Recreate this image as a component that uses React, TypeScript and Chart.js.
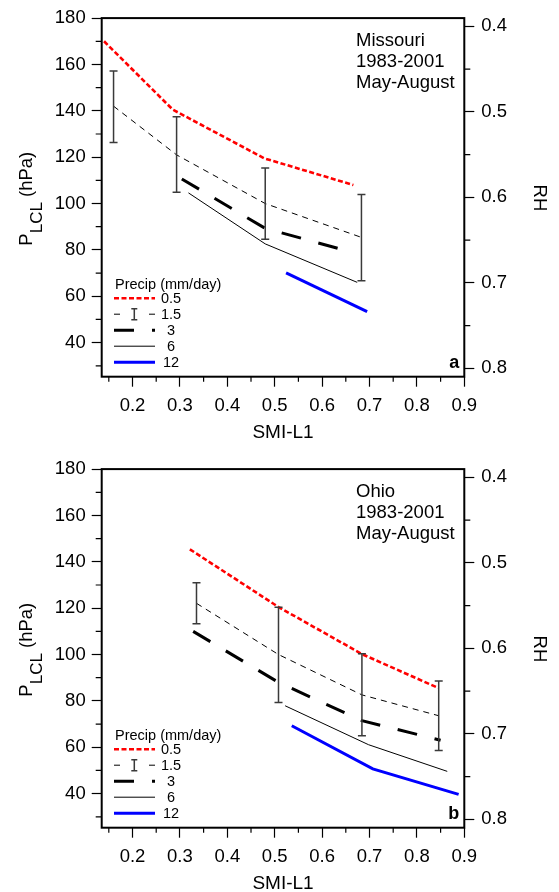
import React, { useEffect, useRef } from 'react';
import { Chart, registerables } from 'chart.js';

Chart.register(...registerables);

const FONT = '"Liberation Sans", Arial, Helvetica, sans-serif';

// ---- axis ticks ----
const xMajorTicks = [0.2, 0.3, 0.4, 0.5, 0.6, 0.7, 0.8, 0.9];
const xMinorTicks = [0.15, 0.25, 0.35, 0.45, 0.55, 0.65, 0.75, 0.85];
const pMajorTicks = [40, 60, 80, 100, 120, 140, 160, 180];
const pMinorTicks = [30, 50, 70, 90, 110, 130, 150, 170];
const rhMajorTicks = [0.4, 0.5, 0.6, 0.7, 0.8];
const rhMinorTicks = [0.45, 0.55, 0.65, 0.75];
const precipLabels = ['0.5', '1.5', '3', '6', '12'];
const legendTitle = 'Precip (mm/day)';
const xTitle = 'SMI-L1';

// ---- Missouri (panel a) ----
const moTitle = ['Missouri', '1983-2001', 'May-August'];
const moX05 = [0.14, 0.285, 0.478, 0.666];
const moY05 = [170, 140.5, 119.5, 108];
const moX15 = [0.16, 0.293, 0.48, 0.683];
const moY15 = [142, 121, 100, 85.4];
const moLo15 = [126.3, 104.9, 84.6, 66.7];
const moHi15 = [157.2, 137.4, 115.3, 103.9];
const moX3 = [0.304, 0.48, 0.64];
const moY3 = [110.6, 89.3, 80.3];
const moX6 = [0.318, 0.48, 0.674];
const moY6 = [104.6, 82.6, 66];
const moX12 = [0.524, 0.695];
const moY12 = [70.1, 53.4];

// ---- Ohio (panel b) ----
const ohTitle = ['Ohio', '1983-2001', 'May-August'];
const ohX05 = [0.321, 0.508, 0.684, 0.846];
const ohY05 = [145.4, 120.5, 100.2, 85.5];
const ohX15 = [0.335, 0.508, 0.684, 0.846];
const ohY15 = [122.1, 100, 82.6, 73.6];
const ohLo15 = [113.3, 79.3, 65.0, 58.6];
const ohHi15 = [131.0, 120.4, 100.3, 88.6];
const ohX3 = [0.328, 0.508, 0.684, 0.85];
const ohY3 = [110, 88, 71.5, 63];
const ohX6 = [0.522, 0.698, 0.864];
const ohY6 = [77.9, 61.1, 49.6];
const ohX12 = [0.536, 0.707, 0.888];
const ohY12 = [69.3, 50.7, 39.7];

type PanelData = {
  title: string[];
  letter: string;
  x05: number[]; y05: number[];
  x15: number[]; y15: number[]; lo15: number[]; hi15: number[];
  x3: number[]; y3: number[];
  x6: number[]; y6: number[];
  x12: number[]; y12: number[];
};

const panelA: PanelData = {
  title: moTitle, letter: 'a',
  x05: moX05, y05: moY05, x15: moX15, y15: moY15, lo15: moLo15, hi15: moHi15,
  x3: moX3, y3: moY3, x6: moX6, y6: moY6, x12: moX12, y12: moY12,
};
const panelB: PanelData = {
  title: ohTitle, letter: 'b',
  x05: ohX05, y05: ohY05, x15: ohX15, y15: ohY15, lo15: ohLo15, hi15: ohHi15,
  x3: ohX3, y3: ohY3, x6: ohX6, y6: ohY6, x12: ohX12, y12: ohY12,
};

const W = 559;
const AREA_TOP = 15.7;
const AREA_BOTTOM = 376.7;
const AREA_LEFT = 101.7;
const AREA_RIGHT = 464.3;
const ERR_COLOR = '#3a3a3a';

function pts(xs: number[], ys: number[]) {
  return xs.map((x, i) => ({ x, y: ys[i] }));
}

function makeDecor(p: PanelData) {
  return {
    id: 'decor',
    afterDatasetsDraw(chart: any) {
      const { ctx, scales } = chart;
      const xs = scales.x;
      const ys = scales.y;
      ctx.save();
      // error bars for 1.5 mm/day
      ctx.setLineDash([]);
      ctx.strokeStyle = ERR_COLOR;
      ctx.lineWidth = 1.5;
      p.x15.forEach((xv, i) => {
        const px = xs.getPixelForValue(xv);
        const pl = ys.getPixelForValue(p.lo15[i]);
        const ph = ys.getPixelForValue(p.hi15[i]);
        ctx.beginPath();
        ctx.moveTo(px, pl); ctx.lineTo(px, ph);
        ctx.moveTo(px - 4, pl); ctx.lineTo(px + 4, pl);
        ctx.moveTo(px - 4, ph); ctx.lineTo(px + 4, ph);
        ctx.stroke();
      });
      ctx.restore();
    },
    afterDraw(chart: any) {
      const { ctx, chartArea: ca, scales } = chart;
      ctx.save();
      ctx.setLineDash([]);
      // frame
      ctx.strokeStyle = '#000';
      ctx.lineWidth = 2;
      ctx.strokeRect(ca.left, ca.top, ca.right - ca.left, ca.bottom - ca.top);
      // minor ticks
      ctx.lineWidth = 1.2;
      ctx.beginPath();
      xMinorTicks.forEach((v) => {
        const px = scales.x.getPixelForValue(v);
        ctx.moveTo(px, ca.bottom); ctx.lineTo(px, ca.bottom + 5);
      });
      pMinorTicks.forEach((v) => {
        const py = scales.y.getPixelForValue(v);
        ctx.moveTo(ca.left - 6, py); ctx.lineTo(ca.left, py);
      });
      rhMinorTicks.forEach((v) => {
        const py = scales.rh.getPixelForValue(v);
        ctx.moveTo(ca.right, py); ctx.lineTo(ca.right + 6, py);
      });
      ctx.stroke();

      ctx.fillStyle = '#000';
      // region title
      ctx.font = `18.5px ${FONT}`;
      ctx.textAlign = 'left';
      ctx.textBaseline = 'alphabetic';
      const tx = ca.left + 254.3;
      const baselines = [27.6, 49.3, 70.3];
      p.title.forEach((t, i) => ctx.fillText(t, tx, ca.top + baselines[i]));

      // panel letter
      ctx.font = `bold 18px ${FONT}`;
      ctx.textAlign = 'right';
      ctx.fillText(p.letter, ca.right - 5, ca.bottom - 8.7);

      // x title
      ctx.font = `19px ${FONT}`;
      ctx.textAlign = 'center';
      ctx.textBaseline = 'alphabetic';
      ctx.fillText(xTitle, (ca.left + ca.right) / 2, ca.bottom + 60.8);

      // left title P_LCL (hPa)
      const cy = (ca.top + ca.bottom) / 2 + 1.3;
      ctx.save();
      ctx.translate(0, cy);
      ctx.rotate(-Math.PI / 2);
      ctx.textAlign = 'left';
      ctx.textBaseline = 'alphabetic';
      const fBig = `18.5px ${FONT}`;
      const fSub = `17px ${FONT}`;
      ctx.font = fBig;
      const wP = ctx.measureText('P').width;
      const wH = ctx.measureText(' (hPa)').width;
      ctx.font = fSub;
      const wL = ctx.measureText('LCL').width;
      const total = wP + wL + wH;
      let sx = -total / 2;
      ctx.font = fBig;
      ctx.fillText('P', sx, 31.7);
      sx += wP;
      ctx.font = fSub;
      ctx.fillText('LCL', sx, 41.5);
      sx += wL;
      ctx.font = fBig;
      ctx.fillText(' (hPa)', sx, 31.7);
      ctx.restore();

      // right title RH
      ctx.save();
      ctx.translate(539, (ca.top + ca.bottom) / 2 + 0.5);
      ctx.rotate(Math.PI / 2);
      ctx.font = `18.5px ${FONT}`;
      ctx.textAlign = 'center';
      ctx.textBaseline = 'middle';
      ctx.fillText('RH', 0, 0);
      ctx.restore();

      // legend
      const lx0 = 114;
      const lx1 = 155;
      ctx.font = `14.5px ${FONT}`;
      ctx.textAlign = 'left';
      ctx.textBaseline = 'alphabetic';
      ctx.fillText(legendTitle, 115, 288.5);
      const ds = chart.data.datasets;
      precipLabels.forEach((lab, i) => {
        const ry = 298.2 + 16 * i;
        const d = ds[i];
        ctx.strokeStyle = d.borderColor;
        ctx.lineWidth = d.borderWidth;
        if (i === 1) {
          ctx.setLineDash([]);
          ctx.beginPath();
          ctx.moveTo(lx0, ry); ctx.lineTo(lx0 + 6, ry);
          ctx.moveTo(lx1 - 6, ry); ctx.lineTo(lx1, ry);
          ctx.stroke();
          ctx.strokeStyle = ERR_COLOR;
          ctx.lineWidth = 1.5;
          ctx.beginPath();
          const ex = 134.3;
          ctx.moveTo(ex, ry - 5.5); ctx.lineTo(ex, ry + 5.5);
          ctx.moveTo(ex - 3, ry - 5.5); ctx.lineTo(ex + 3, ry - 5.5);
          ctx.moveTo(ex - 3, ry + 5.5); ctx.lineTo(ex + 3, ry + 5.5);
          ctx.stroke();
        } else {
          ctx.setLineDash(d.borderDash || []);
          ctx.beginPath();
          ctx.moveTo(lx0, ry); ctx.lineTo(lx1, ry);
          ctx.stroke();
        }
        ctx.setLineDash([]);
        ctx.fillStyle = '#000';
        ctx.textAlign = 'center';
        ctx.textBaseline = 'middle';
        ctx.fillText(lab, 171, ry + 0.5);
      });
      ctx.restore();
    },
  };
}

function PanelChart({ data, height, top }: { data: PanelData; height: number; top: number }) {
  const ref = useRef<HTMLCanvasElement | null>(null);
  useEffect(() => {
    if (!ref.current) return;
    const tickFont = { family: FONT, size: 18.5 };
    const chart = new Chart(ref.current, {
      type: 'line',
      data: {
        datasets: [
          { label: precipLabels[0], data: pts(data.x05, data.y05), borderColor: '#ff0000', borderWidth: 2.6, borderDash: [5, 2.5], pointRadius: 0, fill: false, tension: 0, xAxisID: 'x', yAxisID: 'y' },
          { label: precipLabels[1], data: pts(data.x15, data.y15), borderColor: '#000000', borderWidth: 1, borderDash: [6, 5], pointRadius: 0, fill: false, tension: 0, xAxisID: 'x', yAxisID: 'y' },
          { label: precipLabels[2], data: pts(data.x3, data.y3), borderColor: '#000000', borderWidth: 3, borderDash: [20, 18], pointRadius: 0, fill: false, tension: 0, xAxisID: 'x', yAxisID: 'y' },
          { label: precipLabels[3], data: pts(data.x6, data.y6), borderColor: '#000000', borderWidth: 1, pointRadius: 0, fill: false, tension: 0, xAxisID: 'x', yAxisID: 'y' },
          { label: precipLabels[4], data: pts(data.x12, data.y12), borderColor: '#0000ff', borderWidth: 3, pointRadius: 0, fill: false, tension: 0, xAxisID: 'x', yAxisID: 'y' },
        ],
      },
      options: {
        animation: false,
        responsive: false,
        devicePixelRatio: 1,
        events: [],
        layout: { padding: { top: AREA_TOP, left: 0, right: 0, bottom: 0 } },
        plugins: { legend: { display: false }, tooltip: { enabled: false }, title: { display: false } },
        scales: {
          x: {
            type: 'linear',
            position: 'bottom',
            min: 0.135,
            max: 0.9,
            afterBuildTicks: (s: any) => { s.ticks = xMajorTicks.map((v) => ({ value: v })); },
            afterFit: (s: any) => { s.height = height - AREA_BOTTOM; },
            grid: { drawOnChartArea: false, drawTicks: true, tickLength: 10, tickColor: '#000', tickWidth: 1.2 },
            border: { display: false },
            ticks: { color: '#000', font: tickFont, padding: 8, maxRotation: 0, autoSkip: false, callback: (v: any) => Number(v).toFixed(1) },
          },
          y: {
            type: 'linear',
            position: 'left',
            min: 25.3,
            max: 180,
            afterBuildTicks: (s: any) => { s.ticks = pMajorTicks.map((v) => ({ value: v })); },
            afterFit: (s: any) => { s.width = AREA_LEFT; },
            grid: { drawOnChartArea: false, drawTicks: true, tickLength: 10, tickColor: '#000', tickWidth: 1.2 },
            border: { display: false },
            ticks: { color: '#000', font: tickFont, padding: 6, autoSkip: false, callback: (v: any) => String(v) },
          },
          rh: {
            type: 'linear',
            position: 'right',
            reverse: true,
            min: 0.3903,
            max: 0.8098,
            afterBuildTicks: (s: any) => { s.ticks = rhMajorTicks.map((v) => ({ value: v })); },
            afterFit: (s: any) => { s.width = W - AREA_RIGHT; },
            grid: { drawOnChartArea: false, drawTicks: true, tickLength: 10, tickColor: '#000', tickWidth: 1.2 },
            border: { display: false },
            ticks: { color: '#000', font: tickFont, padding: 7, autoSkip: false, callback: (v: any) => Number(v).toFixed(1) },
          },
        },
      } as any,
      plugins: [makeDecor(data)],
    });
    return () => chart.destroy();
  }, [data, height]);
  return (
    <canvas
      ref={ref}
      width={W}
      height={height}
      style={{ position: 'absolute', left: 0, top, width: W, height, display: 'block' }}
    />
  );
}

export default function App() {
  return (
    <div style={{ position: 'absolute', left: 0, top: 0, width: W, height: 892, background: '#fff', overflow: 'hidden' }}>
      <PanelChart data={panelA} height={451} top={0} />
      <PanelChart data={panelB} height={441} top={451} />
    </div>
  );
}
